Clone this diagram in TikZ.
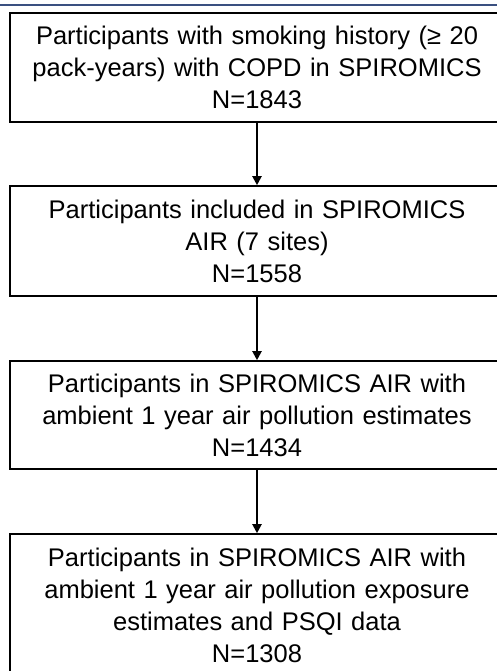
\documentclass[tikz,border=0pt]{standalone}
\usepackage{fontspec}
\setmainfont{Liberation Sans}
\usepackage{tikz}
\usetikzlibrary{arrows.meta}

\definecolor{headblue}{RGB}{58,80,128}

\tikzset{
  stagebox/.style={draw, line width=1.6pt, minimum width=494pt, text width=480pt, align=center, inner sep=0pt, font=\fontsize{25.5}{32}\selectfont},
  flow/.style={line width=2pt, -{Triangle[length=9pt, width=9pt]}}
}

\begin{document}
\begin{tikzpicture}[x=1pt, y=1pt]

        % picture size and crop
        \useasboundingbox (0,0) rectangle (497,-671);
        \clip (0,0) rectangle (497,-671);

        % header line
        \coordinate (hl) at (0,-5);
        \coordinate (hr) at (497,-5);
        \draw[headblue, line width=1.8pt] (hl) -- (hr);

        % the four stages of the cohort
        \node[stagebox, minimum height=109pt] (s1) at (257, -67.5) {Participants with smoking history (≥ 20\\pack-years) with COPD in SPIROMICS\\N=1843};
        \node[stagebox, minimum height=110pt] (s2) at (257, -241) {Participants included in SPIROMICS\\AIR (7 sites)\\N=1558};
        \node[stagebox, minimum height=108pt] (s3) at (257, -415) {Participants in SPIROMICS AIR with\\ambient 1 year air pollution estimates\\N=1434};
        \node[stagebox, minimum height=142pt] (s4) at (257, -605) {Participants in SPIROMICS AIR with\\ambient 1 year air pollution exposure\\estimates and PSQI data\\N=1308};

        % arrows between stages
        \draw[flow] (s1) -- (s2);
        \draw[flow] (s2) -- (s3);
        \draw[flow] (s3) -- (s4);
        \end{tikzpicture}
\end{document}
